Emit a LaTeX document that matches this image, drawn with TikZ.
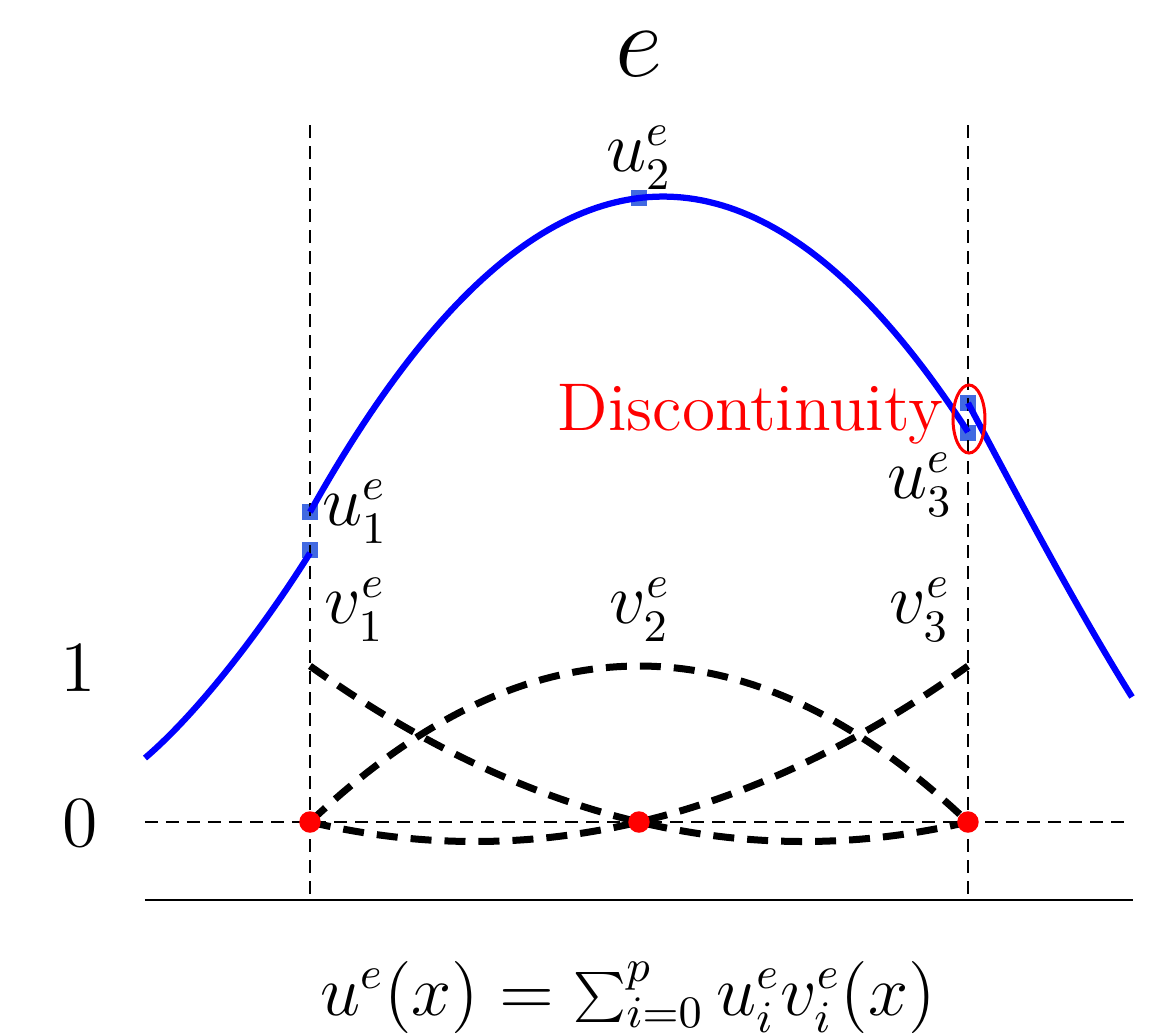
\documentclass[tikz,border=0pt]{standalone}
\usetikzlibrary{shapes.geometric}
\definecolor{royal}{RGB}{65,105,225}
\begin{document}
\begin{tikzpicture}[x=0.2pt,y=-0.2pt,
  thindash/.style={line width=0.55pt, dash pattern=on 2.6pt off 1.6pt},
  basis/.style={line width=1.4pt, dash pattern=on 4.2pt off 2.6pt},
  sol/.style={blue, line width=1.25pt},
  sq/.style={rectangle, fill=royal, minimum size=3.2pt, inner sep=0pt},
  rdot/.style={circle, fill=red, minimum size=4.3pt, inner sep=0pt},
  lab/.style={font=\fontsize{13.5}{16}\selectfont, inner sep=0pt}]
\useasboundingbox (0,0) rectangle (1152,1033);
% squares (under lines)
\node[sq] (s1a) at (310,512) {};
\node[sq] (s1b) at (310,550) {};
\node[sq] (s2) at (639,198) {};
\node[sq] (s3a) at (968,403) {};
\node[sq] (s3b) at (968,433) {};
% axes and guides
\coordinate (axL) at (145,900);
\coordinate (axR) at (1133,900);
\draw[line width=0.3pt] (axL) -- (axR);
\coordinate (zL) at (145,822);
\coordinate (zR) at (1127,822);
\draw[thindash] (zL) -- (zR);
\coordinate (l1) at (310,125);
\coordinate (l2) at (310,900);
\coordinate (r1) at (968,125);
\coordinate (r2) at (968,900);
\draw[thindash] (l1) -- (l2);
\draw[thindash] (r1) -- (r2);
% basis functions
\draw[basis] plot[domain=310:968, samples=80] (\x, {822-156*2*((\x-310)/658-0.5)*((\x-310)/658-1)});
\draw[basis] plot[domain=310:968, samples=80] (\x, {822-156*4*((\x-310)/658)*(1-(\x-310)/658)});
\draw[basis] plot[domain=310:968, samples=80] (\x, {822-156*2*((\x-310)/658)*((\x-310)/658-0.5)});
% solution curves
\coordinate (bl0) at (145,758);
\coordinate (bl1) at (310,553);
\draw[sol] (bl0) .. controls (200,711) and (265,625) .. (bl1);
\draw[sol] plot[domain=310:968, samples=100] (\x, {822-156*(1.987*2*((\x-310)/658-0.5)*((\x-310)/658-1) + 4.0*4*((\x-310)/658)*(1-(\x-310)/658) + 2.5*2*((\x-310)/658)*((\x-310)/658-0.5))});
\coordinate (br0) at (968,403);
\coordinate (br1) at (1132,697);
\draw[sol] (br0) .. controls (1023,507) and (1080,614) .. (br1);
% red nodes
\node[rdot] (n1) at (310,822) {};
\node[rdot] (n2) at (639,822) {};
\node[rdot] (n3) at (968,822) {};
% discontinuity marker
\node[draw=red, ellipse, line width=0.6pt, minimum width=6.4pt, minimum height=13.6pt, inner sep=0pt] (disc) at (969,419) {};
\node[lab, text=red, anchor=base east] (dtext) at (944,430) {Discontinuity};
% labels
\node[inner sep=0pt, font=\fontsize{21.5}{25}\selectfont] (elab) at (639,54) {$e$};
\node[lab] (u2) at (639,158) {$u_2^e$};
\node[lab] (u1) at (355,512) {$u_1^e$};
\node[lab] (u3) at (920,485) {$u_3^e$};
\node[lab] (v1) at (355,610) {$v_1^e$};
\node[lab] (v2) at (640,610) {$v_2^e$};
\node[lab] (v3) at (920,610) {$v_3^e$};
\node[lab] (one) at (78,668) {$1$};
\node[lab] (zero) at (80,823) {$0$};
\node[lab] (formula) at (628,997) {$u^e(x) = \sum_{i=0}^p u_i^e v_i^e(x)$};
\end{tikzpicture}
\end{document}
